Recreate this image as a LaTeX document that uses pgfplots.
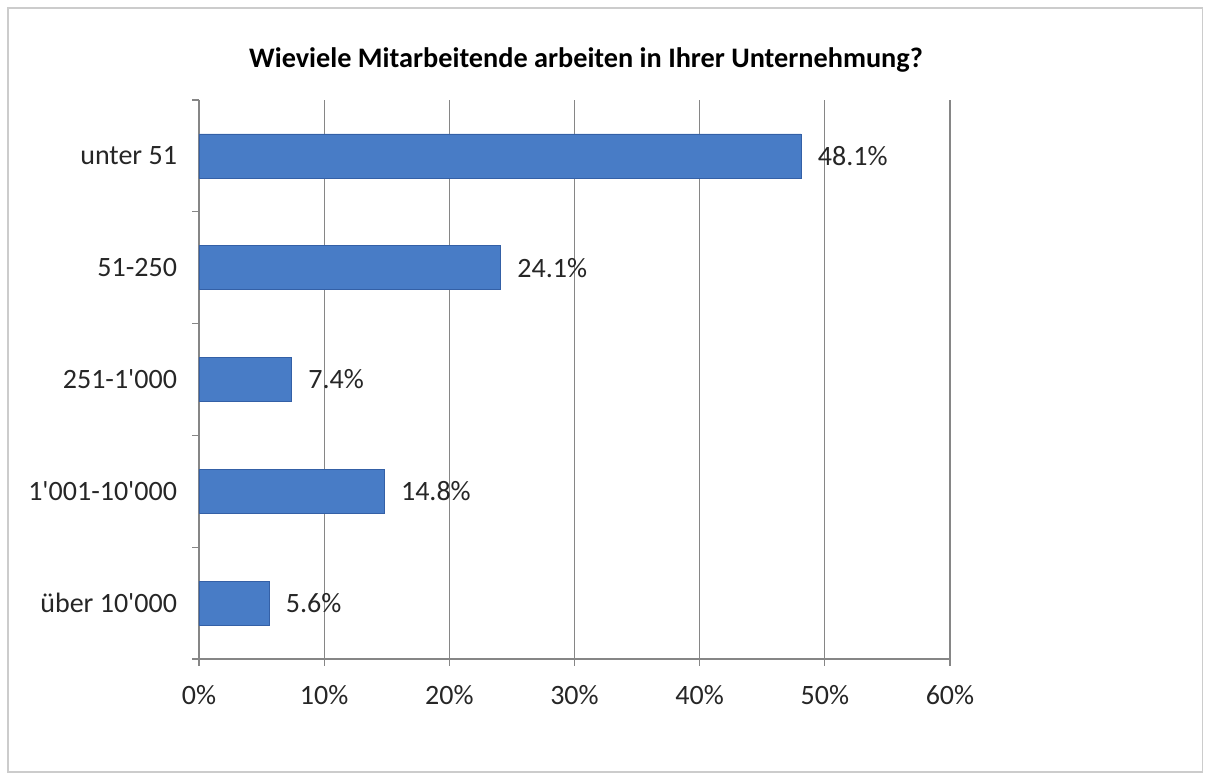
\documentclass[border=0pt]{standalone}
\usepackage{pgfplots}
\pgfplotsset{compat=1.18}
\usepackage{fontspec}
\setmainfont{Carlito}
\definecolor{barblue}{RGB}{72,124,198}
\definecolor{baredge}{RGB}{52,96,166}
\definecolor{gridgray}{RGB}{134,134,134}
\begin{document}
\begin{tikzpicture}[x=1pt,y=1pt]
\path[use as bounding box] (0,0) rectangle (906,-583.5);
\draw[gray!40, line width=1.2pt] (6,-6) rectangle (902,-579);
\node[font=\fontsize{21.2}{25}\selectfont\bfseries] at (439.5,-45) {Wieviele Mitarbeitende arbeiten in Ihrer Unternehmung?};
\begin{axis}[
  at={(149.25pt,-494.25pt)}, anchor=south west,
  scale only axis, width=563.25pt, height=419.25pt,
  xbar, bar width=33pt,
  xmin=0, xmax=60, ymin=-0.5, ymax=4.5,
  axis x line*=bottom, axis y line*=left,
  axis line style={-, gridgray, line width=0.9pt},
  xtick={0,10,20,30,40,50,60},
  xticklabels={0\%,10\%,20\%,30\%,40\%,50\%,60\%},
  xmajorgrids, grid style={gridgray, line width=0.9pt},
  ytick={0,1,2,3,4},
  yticklabels={über 10\textquotesingle000, 1\textquotesingle001-10\textquotesingle000, 251-1\textquotesingle000, 51-250, unter 51},
  minor ytick={-0.5,0.5,1.5,2.5,3.5,4.5},
  tick align=outside,
  major tick length=5pt, minor tick length=5pt,
  major x tick style={gridgray, line width=0.9pt},
  major y tick style={draw=none},
  minor y tick style={gridgray, line width=0.9pt},
  tick label style={font=\fontsize{21}{25}\selectfont, text=black!85},
  xticklabel style={yshift=-11pt},
  yticklabel style={xshift=-8pt},
  point meta=explicit symbolic,
  nodes near coords={\pgfplotspointmeta},
  nodes near coords align={horizontal},
  every node near coord/.append style={anchor=west, font=\fontsize{21}{25}\selectfont, text=black!85, xshift=9pt},
]
\addplot[fill=barblue, draw=baredge, line width=0.6pt] coordinates {
  (5.6,0) [5.6\%]
  (14.8,1) [14.8\%]
  (7.4,2) [7.4\%]
  (24.1,3) [24.1\%]
  (48.1,4) [48.1\%]
};
\end{axis}
\end{tikzpicture}
\end{document}
